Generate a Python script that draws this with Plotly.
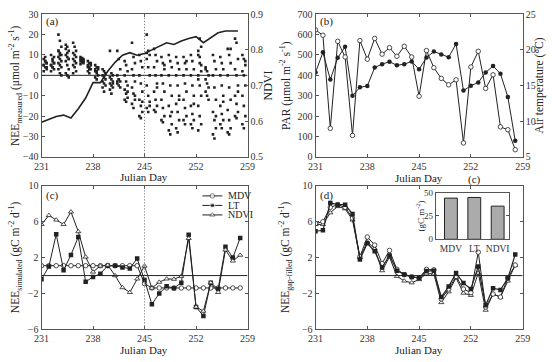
import plotly.graph_objects as go

# ---------------- data ----------------
days = list(range(231, 259))

# (a) half-hourly measured NEE, grouped per day (umol m-2 s-1)
nee_meas = {
    231: [8, 7, 6, 5, 4, 3, 2, 9, 6, 5, 7, 4],
    232: [10, 8, 6, 5, 4, 3, 2, 7, 9, 5, 4, 6],
    233: [20, 17, 14, 12, 11, 10, 9, 8, 7, 6, 5, 4, 3, 1, 0, 12, 10],
    234: [15, 14, 12, 10, 9, 8, 7, 5, 3, 1, 0, -1, 13, 11, 8],
    235: [16, 14, 12, 11, 10, 9, 8, 7, 6, 5, 4, 2, 1],
    236: [9, 8.5, 8, 8, 7.5, 7, 7, 6.5, 6, 5.5, 8, 7],
    237: [7, 6, 5, 5, 4, 3, 2, 1, 6, 4, 3],
    238: [5, 4, 3, 2, 1, 0, -1, -2, 4, 3, 2],
    239: [3, 2, 1, 0, -1, -2, -3, -4, -5, -6, -8, 1],
    240: [12, 1, 0, -1, -2, -3, -4, -5, -6, -7, -9, -4],
    241: [12, 8, 3, 0, -2, -3, -4, -5, -6, -3, -2],
    242: [7, 5, 2, 0, -3, -5, -7, -9, -11, -12, -13, -8],
    243: [16, 9, 6, 3, 0, -3, -6, -9, -12, -14, -16, -10],
    244: [10, 7, 4, 0, -4, -8, -12, -15, -18, -20, -21, -13],
    245: [20, 12, 10, 8, 4, 0, -5, -10, -13, -16, -18, -15, 11],
    246: [13, 10, 7, 4, 0, -4, -8, -12, -15, -17, -18, -6],
    247: [9, 6, 3, 0, -4, -8, -12, -16, -20, -22, -23, 5],
    248: [10, 7, 4, 0, -5, -10, -15, -20, -24, -27, -29, -18],
    249: [9, 6, 3, 0, -5, -10, -14, -18, -22, -26, -28, -12],
    250: [9, 6, 3, 0, -4, -8, -12, -16, -20, -22, -24, 7],
    251: [10, 7, 3, 0, -5, -10, -15, -19, -22, -24, -26, -14],
    252: [12, 9, 5, 0, -5, -10, -15, -20, -24, -27, 18, 14, 10, 6, 2, -2],
    253: [4, 2, 0, -2, -4, -6, -8, -10, -12, 3],
    254: [10, 7, 3, 0, -6, -12, -18, -22, -26, -29, -31, -20],
    255: [9, 6, 3, 0, -5, -10, -15, -19, -22, -24, -26, -13],
    256: [13, 10, 6, 0, -6, -12, -17, -22, -26, -28, -29, 13],
    257: [18, 16, 8, 3, 0, -5, -10, -14, -18, -20, -21, -8],
    258: [10, 8, 5, 2, 0, -5, -10, -15, -20, -24, -26, 7],
}

ndvi_days = [231, 232, 233, 234, 235, 236, 237, 238, 239, 240, 241, 242, 243, 244,
             245, 246, 247, 248, 249, 250, 251, 252, 253, 254, 255, 256, 257, 257.7]
ndvi = [0.597, 0.605, 0.613, 0.617, 0.609, 0.635, 0.665, 0.708, 0.708, 0.74, 0.765,
        0.785, 0.792, 0.785, 0.79, 0.80, 0.81, 0.82, 0.815, 0.825, 0.832, 0.837,
        0.82, 0.835, 0.848, 0.853, 0.853, 0.853]

# (b)
par = [414, 513, 379, 486, 540, 300, 341, 348, 438, 455, 467, 449, 455, 468,
       430, 487, 517, 502, 489, 554, 325, 349, 365, 414, 446, 408, 294, 79]
tair = [22.8, 22.05, 9.0, 21.2, 19.0, 8.0, 21.3, 18.7, 21.6, 19.4, 20.3, 19.1,
        20.5, 19.0, 13.5, 19.9, 17.5, 16.0, 15.1, 15.8, 6.95, 17.6, 19.8, 14.6,
        16.5, 9.2, 8.8, 6.0]

# (c) simulated NEE
sim_mdv = [1.1] * 14 + [-0.9] + [-1.38] * 13
sim_lt = [-0.4, 1.0, 4.6, 0.6, 2.3, 4.3, -0.7, -0.15, 0.2, 1.1, 1.1, 0.9, 0.8, 1.9,
          -0.5, -3.2, -2.0, -1.2, -1.4, -0.8, 4.55, -3.5, -4.5, -0.8, -1.5, 3.2, 2.0, 4.2]
sim_ndvi = [5.7, 6.7, 6.2, 5.7, 7.1, 4.9, 2.07, 0.4, 1.07, 1.17, 0.0, -1.34, -1.87, -0.37,
            1.07, -1.4, -0.73, -0.37, -0.4, -0.08, 4.15, -3.5, -3.96, -0.8, -1.87, 2.86, 1.63, 2.28]

# (d) gap-filled NEE
gf_lt = [4.94, 5.05, 8.1, 7.9, 7.9, 6.85, 1.8, 3.6, 2.7, 0.9, 2.25, 0.55, 0.13, -0.15,
         -0.26, 0.5, 0.55, -2.4, -1.23, 0.28, -0.84, -1.5, 1.0, -3.3, -1.4, -1.6, -0.3, 2.36]
gf_mdv = [5.8, 6.0, 7.6, 7.9, 7.6, 6.4, 2.1, 4.3, 3.4, 1.35, 2.8, 0.7, 0.1, -0.15,
          -0.26, 0.7, 0.64, -2.6, -1.5, -0.1, -1.5, -1.9, 2.6, -3.5, -2.06, -2.4, -0.26, 1.17]
gf_ndvi = [5.7, 5.7, 7.0, 7.7, 7.45, 6.2, 2.0, 3.75, 3.0, 0.55, 2.07, -0.08, -0.6, -0.8,
           -0.44, 0.2, 0.2, -3.0, -1.8, -0.26, -1.95, -2.2, 0.28, -3.85, -2.06, -2.4, -0.6, 1.17]

inset_cats = ["MDV", "LT", "NDVI"]
inset_vals = [44.1, 44.8, 35.5]

x_ticks = [231, 238, 245, 252, 259]
nee_ticks = [-6, -2, 2, 6, 10]

# ---------------- figure ----------------
FONT = "Liberation Serif"
INK = "#222222"
AX = "#555555"
fig = go.Figure()

open_circle = dict(size=4.5, color="white", symbol="circle", line=dict(color=INK, width=0.8))
filled_sq = dict(size=4.5, color=INK, symbol="square")
open_tri = dict(size=4.5, color="white", symbol="triangle-up", line=dict(color=INK, width=0.8))

# (a) scatter points: half-hours of each day fall in three sub-columns
sx, sy = [], []
for d, vals in nee_meas.items():
    for i, v in enumerate(vals):
        sx.append(d + 0.3 + 0.2 * (i % 3))
        sy.append(v)
fig.add_trace(go.Scatter(x=sx, y=sy, mode="markers", xaxis="x", yaxis="y",
                         marker=dict(size=2.6, color=INK, symbol="square"),
                         showlegend=False))
fig.add_trace(go.Scatter(x=ndvi_days, y=ndvi, mode="lines", xaxis="x", yaxis="y2",
                         line=dict(color=INK, width=1.6), showlegend=False))

# (b)
fig.add_trace(go.Scatter(x=days, y=par, mode="lines+markers", xaxis="x2", yaxis="y3",
                         line=dict(color=INK, width=1),
                         marker=dict(size=4.5, color=INK, symbol="circle"), showlegend=False))
fig.add_trace(go.Scatter(x=days, y=tair, mode="lines+markers", xaxis="x2", yaxis="y4",
                         line=dict(color=INK, width=1), marker=open_circle, showlegend=False))

# (c)
fig.add_trace(go.Scatter(x=days, y=sim_mdv, mode="lines+markers", xaxis="x3", yaxis="y5",
                         line=dict(color=INK, width=1), marker=open_circle, showlegend=False))
fig.add_trace(go.Scatter(x=days, y=sim_lt, mode="lines+markers", xaxis="x3", yaxis="y5",
                         line=dict(color=INK, width=1), marker=filled_sq, showlegend=False))
fig.add_trace(go.Scatter(x=days, y=sim_ndvi, mode="lines+markers", xaxis="x3", yaxis="y5",
                         line=dict(color=INK, width=1), marker=open_tri, showlegend=False))

# (d)
fig.add_trace(go.Scatter(x=days, y=gf_ndvi, mode="lines+markers", xaxis="x4", yaxis="y6",
                         line=dict(color=INK, width=1), marker=open_tri, showlegend=False))
fig.add_trace(go.Scatter(x=days, y=gf_mdv, mode="lines+markers", xaxis="x4", yaxis="y6",
                         line=dict(color=INK, width=1), marker=open_circle, showlegend=False))
fig.add_trace(go.Scatter(x=days, y=gf_lt, mode="lines+markers", xaxis="x4", yaxis="y6",
                         line=dict(color=INK, width=1.2), marker=filled_sq, showlegend=False))

# inset bars
fig.add_trace(go.Bar(x=inset_cats, y=inset_vals, xaxis="x5", yaxis="y7", width=0.55,
                     marker=dict(color="#ababab", line=dict(color=INK, width=1)),
                     showlegend=False))

# hand-drawn legend for (c) on its own hidden axes
leg_names = ["MDV", "LT", "NDVI"]
leg_markers = [open_circle, filled_sq, open_tri]
for k, (nm, mk) in enumerate(zip(leg_names, leg_markers)):
    row = 2 - k
    mk2 = dict(mk)
    mk2["size"] = [0, mk["size"], 0]
    fig.add_trace(go.Scatter(x=[0, 0.5, 1], y=[row, row, row], mode="lines+markers",
                             xaxis="x6", yaxis="y8", line=dict(color=INK, width=1),
                             marker=mk2, showlegend=False, hoverinfo="skip"))

W, H = 552, 362
def fx(px):
    return px / W
def fy(py):
    return 1 - py / H

dom_ax = [fx(34.5), fx(246.7)]
dom_bx = [fx(316.7), fx(530)]
dom_top = [fy(156), fy(8.5)]
dom_bot = [fy(334.5), fy(186)]

tickfont = dict(family=FONT, size=10, color="#333333")
common = dict(showline=True, linecolor=AX, linewidth=1, ticks="inside",
              ticklen=3, tickcolor=AX, tickfont=tickfont, showgrid=False,
              zeroline=False)

def xax(domain, anchor):
    return dict(domain=domain, anchor=anchor, range=[231, 259], tickvals=x_ticks,
                mirror="ticks", **common)

layout = dict(
    width=W, height=H, margin=dict(l=0, r=0, t=0, b=0),
    plot_bgcolor="white", paper_bgcolor="white",
    font=dict(family=FONT, color=INK),
    xaxis=xax(dom_ax, "y"),
    yaxis=dict(domain=dom_top, anchor="x", range=[-40, 30], dtick=10, **common),
    yaxis2=dict(overlaying="y", side="right", anchor="x", range=[0.5, 0.9], dtick=0.1,
                tickformat=".1f", **common),
    xaxis2=xax(dom_bx, "y3"),
    yaxis3=dict(domain=dom_top, anchor="x2", range=[0, 700], dtick=100, **common),
    yaxis4=dict(overlaying="y3", side="right", anchor="x2", range=[5, 25], dtick=5, **common),
    xaxis3=xax(dom_ax, "y5"),
    yaxis5=dict(domain=dom_bot, anchor="x3", range=[-6, 10], tickvals=nee_ticks,
                mirror="ticks", **common),
    xaxis4=xax(dom_bx, "y6"),
    yaxis6=dict(domain=dom_bot, anchor="x4", range=[-6, 10], tickvals=nee_ticks,
                mirror="ticks", **common),
    xaxis5=dict(domain=[fx(440.5), fx(516.3)], anchor="y7", range=[-0.65, 2.5],
                mirror=True, **{**common, "ticks": "",
                                "tickfont": dict(family=FONT, size=9.5, color="#333333")}),
    yaxis7=dict(domain=[fy(241.3), fy(193)], anchor="x5", range=[0, 50], dtick=25,
                mirror="ticks", **{**common,
                                   "tickfont": dict(family=FONT, size=9, color="#333333")}),
    xaxis6=dict(domain=[fx(200), fx(221)], anchor="y8", range=[0, 1], visible=False),
    yaxis8=dict(domain=[fy(221), fy(191.5)], anchor="x6", range=[-0.5, 2.5], visible=False),
    showlegend=False,
    bargap=0.4,
)
fig.update_layout(**layout)

# zero lines and dotted lines
shapes = []
for xr, yr in [("x", "y"), ("x3", "y5"), ("x4", "y6")]:
    shapes.append(dict(type="line", xref=xr, yref=yr, x0=231, x1=259, y0=0, y1=0,
                       line=dict(color=INK, width=1)))
for xr, yr, y0, y1 in [("x", "y", -40, 30), ("x3", "y5", -6, 10)]:
    shapes.append(dict(type="line", xref=xr, yref=yr, x0=245, x1=245, y0=y0, y1=y1,
                       line=dict(color="#666666", width=1, dash="1px,2px")))
fig.update_layout(shapes=shapes)

ann = []
def A(text, x, y, size=12, angle=0, xa="center"):
    ann.append(dict(text=text, x=fx(x), y=fy(y), xref="paper", yref="paper",
                    showarrow=False, textangle=angle, xanchor=xa, yanchor="middle",
                    font=dict(family=FONT, size=size, color=INK)))

A("(a)", 46, 16, 11)
A("(b)", 328, 16, 11)
A("(c)", 46, 196, 11)
A("(d)", 328, 196, 11)
A("(c)", 480, 179, 11)
A("Julian Day", 140, 177, 11)
A("Julian Day", 423, 178, 11)
A("Julian Day", 140, 356, 11)
A("Julian Day", 423, 356, 11)
A("NEE<sub>measured</sub> (μmol m<sup>-2</sup> s<sup>-1</sup>)", 8, 82, 11.5, -90)
A("NDVI", 268, 82, 12, -90)
A("PAR (μmol m<sup>-2</sup> s<sup>-1</sup>)", 286, 82, 11.5, -90)
A("Air temperature (°C)", 547, 82, 11.5, -90)
A("NEE<sub>simulated</sub> (gC m<sup>-2</sup> d<sup>-1</sup>)", 8, 260, 11.5, -90)
A("NEE<sub>gap-filled</sub> (gC m<sup>-2</sup> d<sup>-1</sup>)", 286, 260, 11.5, -90)
A("(gC m<sup>-2</sup>)", 424, 217, 9, -90)
A("MDV", 224, 196.5, 10, xa="left")
A("LT", 224, 206.5, 10, xa="left")
A("NDVI", 224, 216, 10, xa="left")
fig.update_layout(annotations=ann)

fig.write_html("out.html")
